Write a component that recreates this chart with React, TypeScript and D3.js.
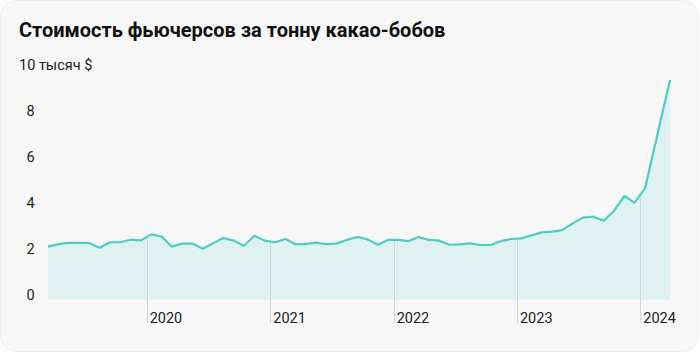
import React from "react";
import * as d3 from "d3";

const TITLE = "Стоимость фьючерсов за тонну какао-бобов";
const UNIT_LABEL = "10 тысяч $";

// Monthly points (mid-month) from Mar 2019 to Jan 2024, then late March 2024
const startMonth = "2019-03-15";
const lastDate = "2024-03-29";
const values: number[] = [
  2.30, 2.41, 2.46, 2.46, 2.46, 2.25, 2.49, 2.49, 2.60, 2.57,
  2.83, 2.73, 2.30, 2.43, 2.43, 2.21, 2.44, 2.67, 2.56, 2.34, 2.77, 2.56,
  2.49, 2.63, 2.41, 2.41, 2.47, 2.41, 2.43, 2.59, 2.72, 2.62, 2.38, 2.59,
  2.59, 2.54, 2.72, 2.59, 2.56, 2.38, 2.40, 2.44, 2.37, 2.37, 2.54, 2.63,
  2.66, 2.80, 2.92, 2.95, 3.02, 3.31, 3.56, 3.60, 3.43, 3.85, 4.50, 4.21,
  4.83,
  9.54,
];
const yTicks: number[] = [0, 2, 4, 6, 8];
const yTop = 10;

const parse = d3.timeParse("%Y-%m-%d");
const start = parse(startMonth) as Date;
const dates: Date[] = values.map((_, i) =>
  i === values.length - 1 ? (parse(lastDate) as Date) : d3.timeMonth.offset(start, i)
);
const data = values.map((v, i) => ({ date: dates[i], value: v }));

const W = 700;
const H = 355;
const X0 = 48;
const X1 = 670;
const Y0 = 299.5;
const Y10 = 69.5;

export default function App() {
  const x = d3.scaleTime().domain([dates[0], dates[dates.length - 1]]).range([X0, X1]);
  const y = d3.scaleLinear().domain([0, yTop]).range([Y0, Y10]);

  const area = d3
    .area<{ date: Date; value: number }>()
    .x((d) => x(d.date))
    .y0(y(0))
    .y1((d) => y(d.value));
  const line = d3
    .line<{ date: Date; value: number }>()
    .x((d) => x(d.date))
    .y((d) => y(d.value));

  const areaD = area(data) || "";
  const lineD = line(data) || "";
  const years = x.ticks(d3.timeYear.every(1));
  const fmt = d3.timeFormat("%Y");
  const font = "Roboto, 'Noto Sans', sans-serif";

  return (
    <svg
      width={W}
      height={H}
      viewBox={`0 0 ${W} ${H}`}
      style={{ position: "absolute", left: 0, top: 0, display: "block" }}
    >
      <rect x={0} y={0} width={W} height={H} fill="#ffffff" />
      <rect x={0.5} y={0.5} width={698} height={351} rx={16} ry={16} fill="#f7f7f7" stroke="#eeeeee" />
      <text x={19} y={37} fontFamily={font} fontWeight={700} fontSize={20} fill="#111111">
        {TITLE}
      </text>
      <text x={19} y={y(yTop)} fontFamily={font} fontSize={14.5} fill="#222222">
        {UNIT_LABEL}
      </text>
      {yTicks.map((t) => (
        <text key={t} x={26.5} y={y(t)} fontFamily={font} fontSize={14.5} fill="#222222">
          {t}
        </text>
      ))}
      <defs>
        <clipPath id="gridClip">
          <path d={areaD} />
          <rect x={0} y={y(0)} width={W} height={24} />
        </clipPath>
      </defs>
      <path d={areaD} fill="#dff1f0" />
      <g clipPath="url(#gridClip)">
        {years.map((d) => (
          <line
            key={+d}
            x1={Math.round(x(d)) + 0.5}
            x2={Math.round(x(d)) + 0.5}
            y1={0}
            y2={323}
            stroke="#cfd8d8"
            strokeWidth={1}
          />
        ))}
      </g>
      <path d={lineD} fill="none" stroke="#4dcdc3" strokeWidth={2.2} strokeLinejoin="round" />
      {years.map((d) => (
        <text key={+d} x={x(d) + 3} y={322.5} fontFamily={font} fontSize={14.5} fill="#222222">
          {fmt(d)}
        </text>
      ))}
    </svg>
  );
}
